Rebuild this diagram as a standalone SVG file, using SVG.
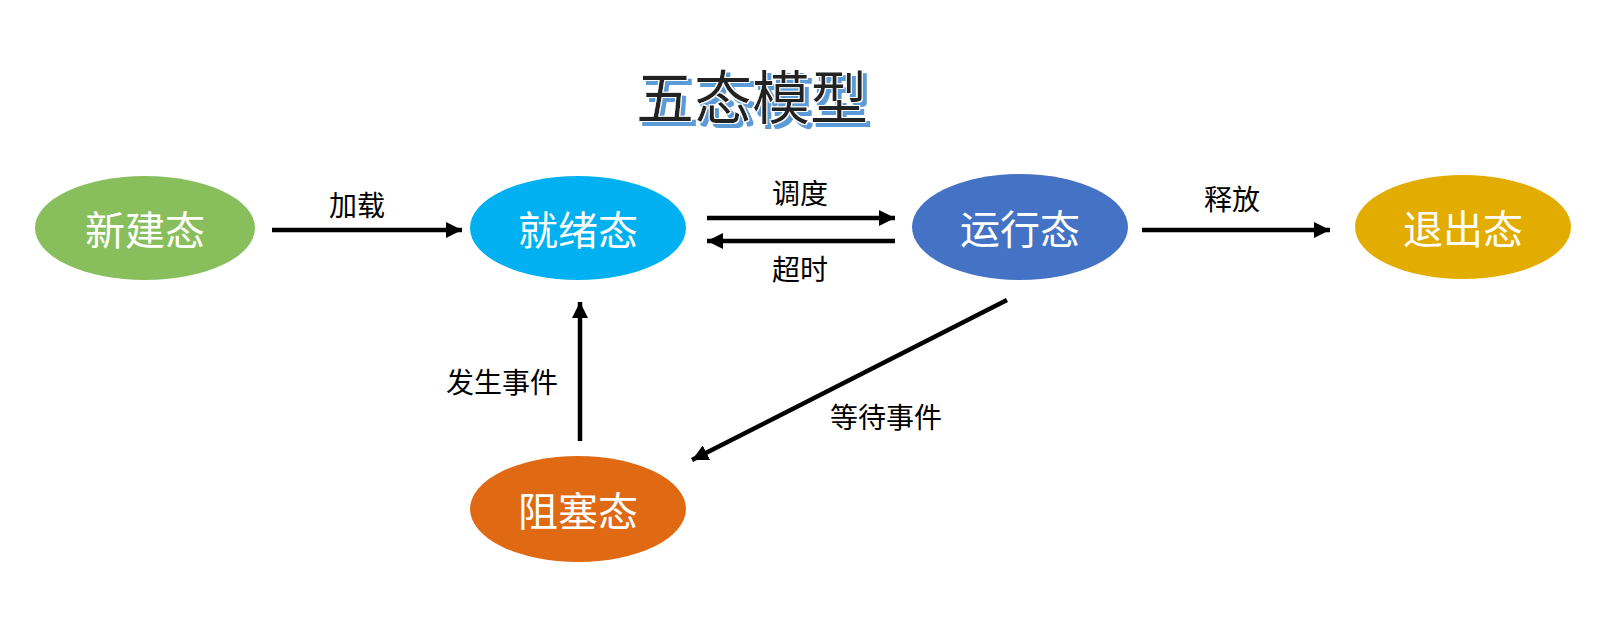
<svg xmlns="http://www.w3.org/2000/svg" width="1600" height="639" viewBox="0 0 1600 639">
<defs>
<style>
.node text{font-family:"Noto Sans CJK SC","Noto Sans",sans-serif;font-size:40px;fill:#ffffff;text-anchor:middle;dominant-baseline:central}
.lbl{font-family:"Noto Sans CJK SC","Noto Sans",sans-serif;font-size:28px;fill:#000000;text-anchor:middle;dominant-baseline:central}
.conn line{stroke:#000;stroke-width:4.5;marker-end:url(#ah)}
.title{font-family:"Noto Sans CJK SC","Noto Sans",sans-serif;font-size:58px;font-weight:normal;text-anchor:middle;dominant-baseline:central}
</style>
<filter id="ts" x="-10%" y="-20%" width="130%" height="150%">
<feMorphology in="SourceAlpha" operator="dilate" radius="1.2" result="dil"/>
<feFlood flood-color="#ffffff" result="wf"/>
<feComposite in="wf" in2="dil" operator="in" result="outline"/>
<feOffset in="dil" dx="4" dy="4" result="off"/>
<feFlood flood-color="#5B9BD5" result="bf"/>
<feComposite in="bf" in2="off" operator="in" result="shadow"/>
<feMerge>
<feMergeNode in="shadow"/>
<feMergeNode in="outline"/>
<feMergeNode in="SourceGraphic"/>
</feMerge>
</filter>
<marker id="ah" viewBox="0 0 10 10" refX="10" refY="5" markerWidth="3.6" markerHeight="3.6" orient="auto" markerUnits="strokeWidth">
<path d="M0,0 L10,5 L0,10 z" fill="#000"/>
</marker>
</defs>
<rect width="1600" height="639" fill="#ffffff"/>
<g id="title">
<text class="title" x="752" y="94" fill="#222222" filter="url(#ts)">五态模型</text>
</g>
<g id="connectors" class="conn">
<line x1="272" y1="230" x2="462" y2="230"/>
<line x1="707" y1="218" x2="895" y2="218"/>
<line x1="895" y1="241" x2="707" y2="241"/>
<line x1="1142" y1="230" x2="1330" y2="230"/>
<line x1="1007" y1="300" x2="692" y2="460"/>
<line x1="580" y1="441" x2="580" y2="302"/>
</g>
<g id="labels">
<text class="lbl" x="357" y="204">加载</text>
<text class="lbl" x="800" y="192">调度</text>
<text class="lbl" x="800" y="268">超时</text>
<text class="lbl" x="1232" y="198">释放</text>
<text class="lbl" x="502" y="381">发生事件</text>
<text class="lbl" x="886" y="416">等待事件</text>
</g>
<g id="node-new" class="node">
<ellipse cx="145" cy="228" rx="110" ry="52" fill="#88BE5C"/>
<text x="145" y="228">新建态</text>
</g>
<g id="node-ready" class="node">
<ellipse cx="578" cy="228" rx="108" ry="52" fill="#00B0F0"/>
<text x="578" y="228">就绪态</text>
</g>
<g id="node-running" class="node">
<ellipse cx="1020" cy="227" rx="108" ry="53" fill="#4472C4"/>
<text x="1020" y="227">运行态</text>
</g>
<g id="node-exit" class="node">
<ellipse cx="1463" cy="227" rx="108" ry="52" fill="#E3AC00"/>
<text x="1463" y="227">退出态</text>
</g>
<g id="node-blocked" class="node">
<ellipse cx="578" cy="509" rx="108" ry="53" fill="#E06914"/>
<text x="578" y="509">阻塞态</text>
</g>
</svg>
